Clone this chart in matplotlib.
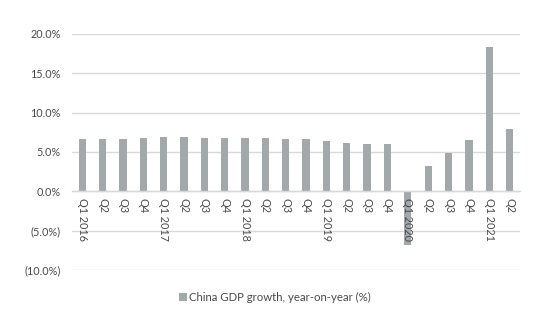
import matplotlib.pyplot as plt
from matplotlib.ticker import FuncFormatter

quarters = ["Q1 2016", "Q2", "Q3", "Q4",
            "Q1 2017", "Q2", "Q3", "Q4",
            "Q1 2018", "Q2", "Q3", "Q4",
            "Q1 2019", "Q2", "Q3", "Q4",
            "Q1 2020", "Q2", "Q3", "Q4",
            "Q1 2021", "Q2"]
gdp_growth = [6.7, 6.7, 6.7, 6.8,
              6.9, 6.9, 6.8, 6.8,
              6.8, 6.8, 6.7, 6.6,
              6.4, 6.2, 6.0, 6.0,
              -6.8, 3.2, 4.9, 6.5,
              18.3, 7.9]
y_ticks = [-10, -5, 0, 5, 10, 15, 20]

TEXT = "#4a4a4a"
BAR = "#A3A8AA"
GRID = "#D9D9D9"

plt.rcParams["font.family"] = ["Lato", "DejaVu Sans"]

fig = plt.figure(figsize=(5.5, 3.3), dpi=100)
ax = fig.add_axes([0.131, 0.182, 0.814, 0.715])

x = list(range(len(quarters)))
ax.bar(x, gdp_growth, width=0.36, color=BAR, zorder=2,
       label="China GDP growth, year-on-year (%)")

ax.set_xlim(-0.5, len(quarters) - 0.5)
ax.set_ylim(-10, 20)
ax.set_yticks(y_ticks)
ax.yaxis.set_major_formatter(FuncFormatter(
    lambda v, p: f"({abs(v):.1f}%)" if v < 0 else f"{v:.1f}%"))
# gridlines behind the bars, tick labels above them
for t in y_ticks:
    ax.axhline(t, color=GRID, linewidth=1.0, zorder=0)
ax.set_axisbelow(False)

for s in ["top", "right", "left"]:
    ax.spines[s].set_visible(False)
ax.spines["bottom"].set_position(("data", 0))
ax.spines["bottom"].set_color(GRID)
ax.spines["bottom"].set_linewidth(1.0)

ax.set_xticks(x)
ax.set_xticklabels(quarters, rotation=-90, va="top", ha="center")
ax.tick_params(axis="x", length=0, pad=5, labelsize=7.8, labelcolor=TEXT)
ax.tick_params(axis="y", length=0, pad=8, labelsize=7.8, labelcolor=TEXT)

fig.legend(loc="center", bbox_to_anchor=(0.5, 0.1), frameon=False,
           fontsize=8.2, labelcolor=TEXT, handlelength=0.7, handleheight=0.7,
           handletextpad=0.2)

fig.savefig("out.png", dpi=100)
